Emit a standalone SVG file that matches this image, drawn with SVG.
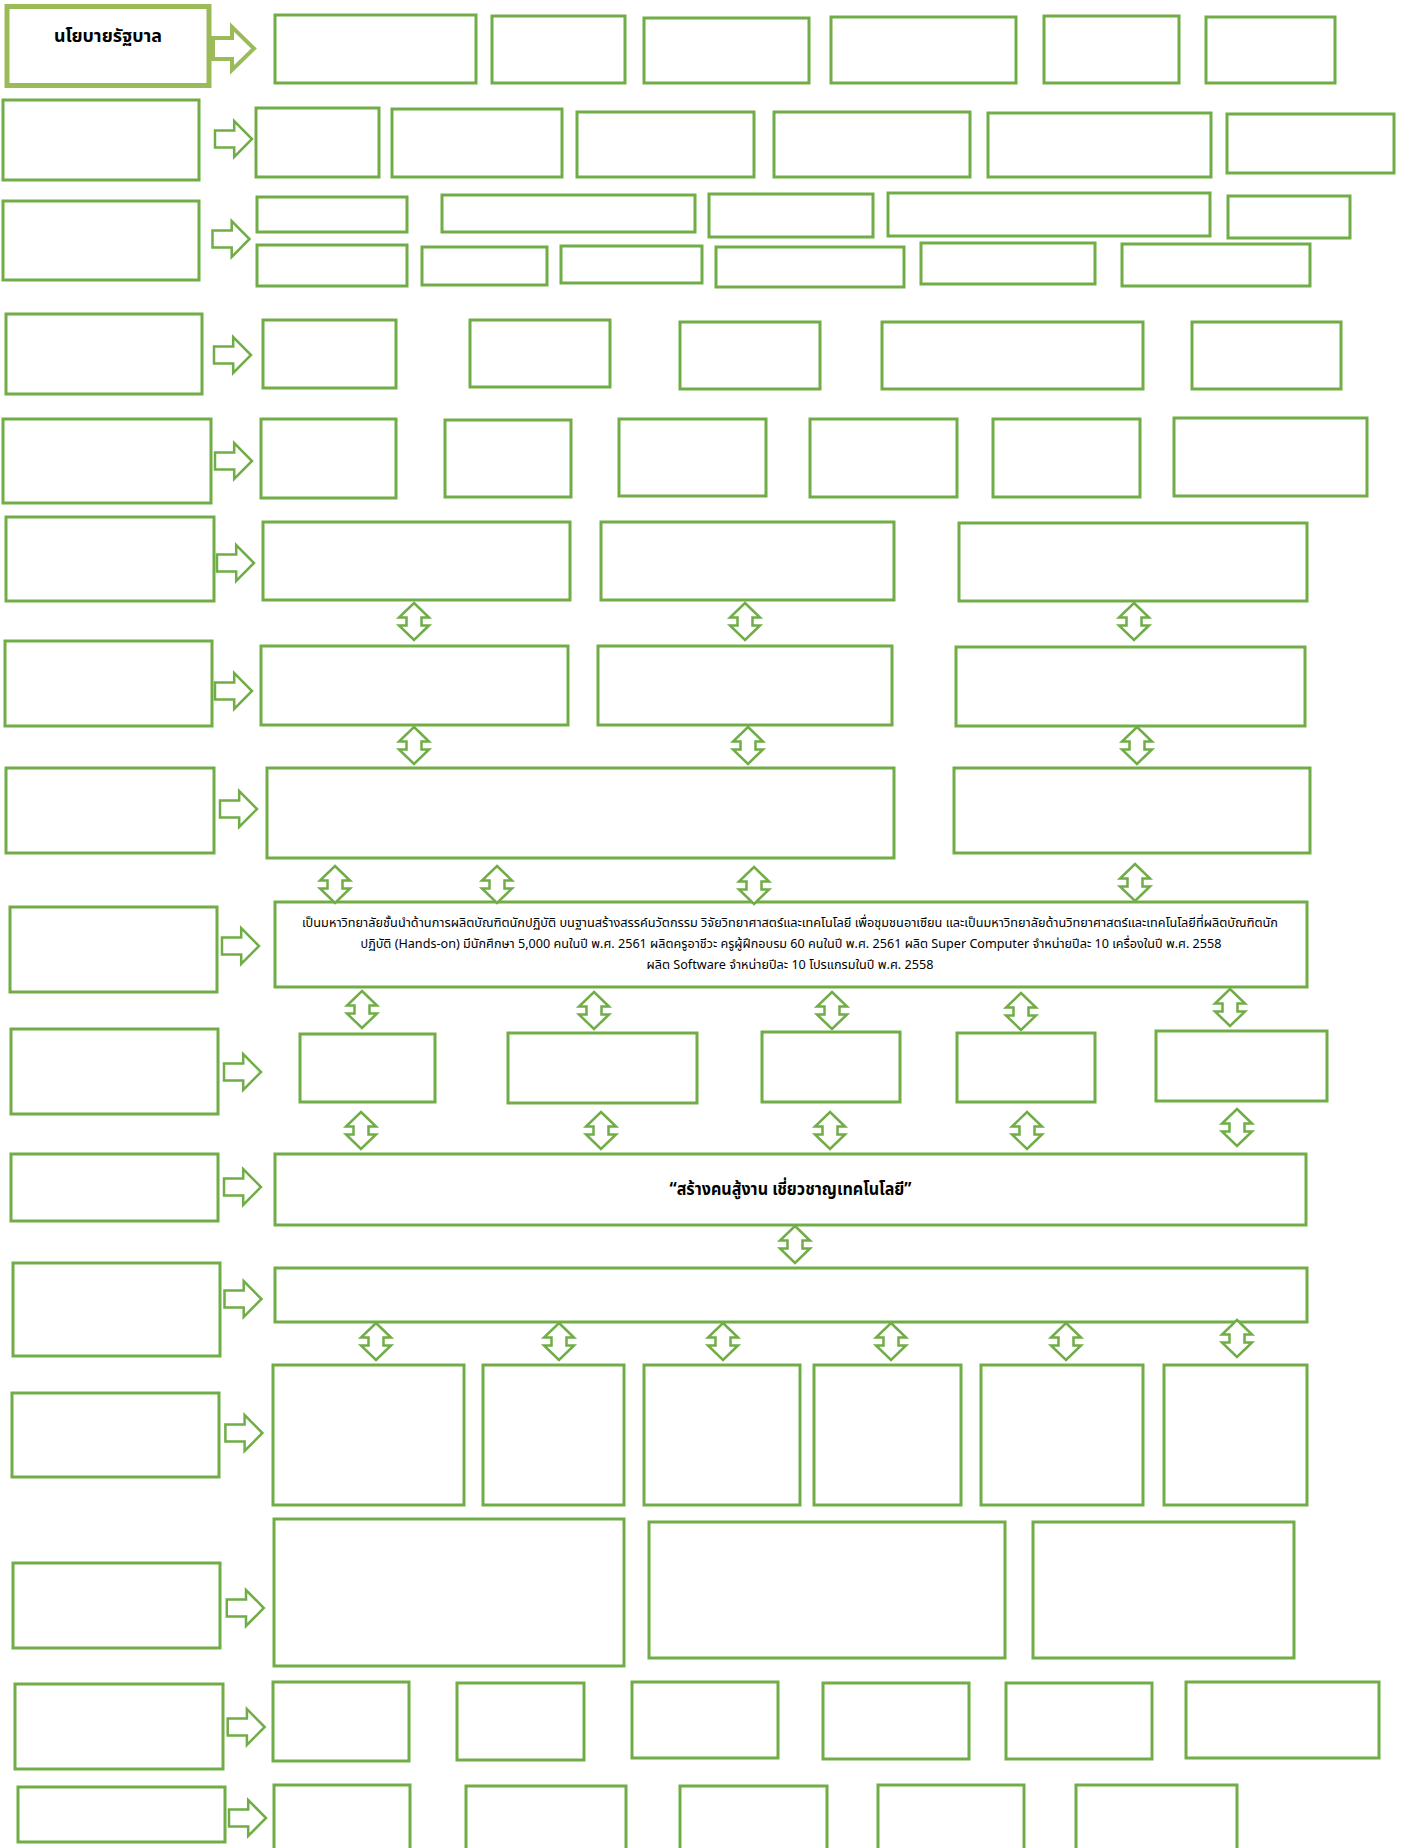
<svg xmlns="http://www.w3.org/2000/svg" xmlns:xlink="http://www.w3.org/1999/xlink" width="1405" height="1848" viewBox="0 0 1405 1848">
<style>
.box{fill:#fff;stroke:#70AD47;stroke-width:3}
.tbox{fill:#fff;stroke:#9BBB59;stroke-width:5}
.arr{fill:#fff;stroke:#70AD47;stroke-width:2.5;stroke-linejoin:miter}
.tarr{fill:#fff;stroke:#9BBB59;stroke-width:4;stroke-linejoin:miter}
.t{font-family:"Noto Sans Thai","Noto Sans","Leelawadee UI","DejaVu Sans",sans-serif;fill:#000}
.b{font-weight:bold}
</style>
<defs>
<path id="ra" class="arr" d="M0,9.4 L19.2,9.4 L19.2,0 L37,18 L19.2,36 L19.2,26.6 L0,26.6 Z"/>
<path id="da" class="arr" d="M15,0 L30,14.5 L22.5,14.5 L22.5,22.5 L30,22.5 L15,37 L0,22.5 L7.5,22.5 L7.5,14.5 L0,14.5 Z"/>
</defs>
<rect width="1405" height="1848" fill="#fff"/>

<g id="row1">
<g id="n-title"><rect class="tbox" x="7" y="6.5" width="202" height="79"/><text class="t b" x="108" y="42" font-size="18" text-anchor="middle" textLength="108" lengthAdjust="spacingAndGlyphs">นโยบายรัฐบาล</text></g>
<g id="n1-1"><rect class="box" x="275" y="15" width="201" height="68"/></g>
<g id="n1-2"><rect class="box" x="492" y="16" width="133" height="67"/></g>
<g id="n1-3"><rect class="box" x="644" y="18" width="165" height="65"/></g>
<g id="n1-4"><rect class="box" x="831" y="17" width="185" height="66"/></g>
<g id="n1-5"><rect class="box" x="1044" y="16" width="135" height="67"/></g>
<g id="n1-6"><rect class="box" x="1206" y="17" width="129" height="66"/></g>
</g>

<g id="row2">
<g id="n2-0"><rect class="box" x="3" y="100" width="196" height="80"/></g>
<g id="n2-1"><rect class="box" x="256" y="108" width="123" height="69"/></g>
<g id="n2-2"><rect class="box" x="392" y="109" width="170" height="68"/></g>
<g id="n2-3"><rect class="box" x="577" y="112" width="177" height="65"/></g>
<g id="n2-4"><rect class="box" x="774" y="112" width="196" height="65"/></g>
<g id="n2-5"><rect class="box" x="988" y="113" width="223" height="64"/></g>
<g id="n2-6"><rect class="box" x="1227" y="114" width="167" height="59"/></g>
</g>

<g id="row3">
<g id="n3-0"><rect class="box" x="3" y="201" width="196" height="79"/></g>
<g id="n3-1"><rect class="box" x="257" y="197" width="150" height="35"/></g>
<g id="n3-2"><rect class="box" x="442" y="195" width="253" height="37"/></g>
<g id="n3-3"><rect class="box" x="709" y="194" width="164" height="43"/></g>
<g id="n3-4"><rect class="box" x="888" y="193" width="322" height="43"/></g>
<g id="n3-5"><rect class="box" x="1228" y="196" width="122" height="42"/></g>
<g id="n3-6"><rect class="box" x="257" y="245" width="150" height="41"/></g>
<g id="n3-7"><rect class="box" x="422" y="247" width="125" height="38"/></g>
<g id="n3-8"><rect class="box" x="561" y="246" width="141" height="37"/></g>
<g id="n3-9"><rect class="box" x="716" y="247" width="188" height="40"/></g>
<g id="n3-10"><rect class="box" x="921" y="243" width="174" height="41"/></g>
<g id="n3-11"><rect class="box" x="1122" y="244" width="188" height="42"/></g>
</g>

<g id="row4">
<g id="n4-0"><rect class="box" x="6" y="314" width="196" height="80"/></g>
<g id="n4-1"><rect class="box" x="263" y="320" width="133" height="68"/></g>
<g id="n4-2"><rect class="box" x="470" y="320" width="140" height="67"/></g>
<g id="n4-3"><rect class="box" x="680" y="322" width="140" height="67"/></g>
<g id="n4-4"><rect class="box" x="882" y="322" width="261" height="67"/></g>
<g id="n4-5"><rect class="box" x="1192" y="322" width="149" height="67"/></g>
</g>

<g id="row5">
<g id="n5-0"><rect class="box" x="3" y="419" width="208" height="84"/></g>
<g id="n5-1"><rect class="box" x="261" y="419" width="135" height="79"/></g>
<g id="n5-2"><rect class="box" x="445" y="420" width="126" height="77"/></g>
<g id="n5-3"><rect class="box" x="619" y="419" width="147" height="77"/></g>
<g id="n5-4"><rect class="box" x="810" y="419" width="147" height="78"/></g>
<g id="n5-5"><rect class="box" x="993" y="419" width="147" height="78"/></g>
<g id="n5-6"><rect class="box" x="1174" y="418" width="193" height="78"/></g>
</g>

<g id="row6">
<g id="n6-0"><rect class="box" x="6" y="517" width="208" height="84"/></g>
<g id="n6-1"><rect class="box" x="263" y="522" width="307" height="78"/></g>
<g id="n6-2"><rect class="box" x="601" y="522" width="293" height="78"/></g>
<g id="n6-3"><rect class="box" x="959" y="523" width="348" height="78"/></g>
</g>

<g id="row7">
<g id="n7-0"><rect class="box" x="5" y="641" width="207" height="85"/></g>
<g id="n7-1"><rect class="box" x="261" y="646" width="307" height="79"/></g>
<g id="n7-2"><rect class="box" x="598" y="646" width="294" height="79"/></g>
<g id="n7-3"><rect class="box" x="956" y="647" width="349" height="79"/></g>
</g>

<g id="row8">
<g id="n8-0"><rect class="box" x="6" y="768" width="208" height="85"/></g>
<g id="n8-1"><rect class="box" x="267" y="768" width="627" height="90"/></g>
<g id="n8-2"><rect class="box" x="954" y="768" width="356" height="85"/></g>
</g>

<g id="row9">
<g id="n9-0"><rect class="box" x="10" y="907" width="207" height="85"/></g>
<g id="n9-1"><rect class="box" x="275" y="902" width="1032" height="85"/>
<text class="t" font-size="12.5" text-anchor="middle"><tspan x="790" y="927" textLength="976" lengthAdjust="spacingAndGlyphs">เป็นมหาวิทยาลัยชั้นนำด้านการผลิตบัณฑิตนักปฏิบัติ บนฐานสร้างสรรค์นวัตกรรม  วิจัยวิทยาศาสตร์และเทคโนโลยี เพื่อชุมชนอาเซียน และเป็นมหาวิทยาลัยด้านวิทยาศาสตร์และเทคโนโลยีที่ผลิตบัณฑิตนัก</tspan><tspan x="791" y="948" textLength="861" lengthAdjust="spacingAndGlyphs">ปฏิบัติ (Hands-on)  มีนักศึกษา 5,000 คนในปี พ.ศ. 2561  ผลิตครูอาชีวะ ครูผู้ฝึกอบรม 60 คนในปี พ.ศ. 2561 ผลิต Super Computer จำหน่ายปีละ 10 เครื่องในปี พ.ศ. 2558</tspan><tspan x="790" y="969" textLength="287" lengthAdjust="spacingAndGlyphs">ผลิต Software จำหน่ายปีละ 10 โปรแกรมในปี พ.ศ. 2558</tspan></text></g>
</g>

<g id="row10">
<g id="n10-0"><rect class="box" x="11" y="1029" width="207" height="85"/></g>
<g id="n10-1"><rect class="box" x="300" y="1034" width="135" height="68"/></g>
<g id="n10-2"><rect class="box" x="508" y="1033" width="189" height="70"/></g>
<g id="n10-3"><rect class="box" x="762" y="1032" width="138" height="70"/></g>
<g id="n10-4"><rect class="box" x="957" y="1033" width="138" height="69"/></g>
<g id="n10-5"><rect class="box" x="1156" y="1031" width="171" height="70"/></g>
</g>

<g id="row11">
<g id="n11-0"><rect class="box" x="11" y="1154" width="207" height="67"/></g>
<g id="n11-1"><rect class="box" x="275" y="1154" width="1031" height="71"/><text class="t b" x="790.5" y="1195" font-size="17" text-anchor="middle" textLength="242" lengthAdjust="spacingAndGlyphs">“สร้างคนสู้งาน เชี่ยวชาญเทคโนโลยี”</text></g>
</g>

<g id="row12">
<g id="n12-0"><rect class="box" x="13" y="1263" width="207" height="93"/></g>
<g id="n12-1"><rect class="box" x="275" y="1268" width="1032" height="54"/></g>
</g>

<g id="row13">
<g id="n13-0"><rect class="box" x="12" y="1393" width="207" height="84"/></g>
<g id="n13-1"><rect class="box" x="273" y="1365" width="191" height="140"/></g>
<g id="n13-2"><rect class="box" x="483" y="1365" width="141" height="140"/></g>
<g id="n13-3"><rect class="box" x="644" y="1365" width="156" height="140"/></g>
<g id="n13-4"><rect class="box" x="814" y="1365" width="147" height="140"/></g>
<g id="n13-5"><rect class="box" x="981" y="1365" width="162" height="140"/></g>
<g id="n13-6"><rect class="box" x="1164" y="1365" width="143" height="140"/></g>
</g>

<g id="row14">
<g id="n14-0"><rect class="box" x="13" y="1563" width="207" height="85"/></g>
<g id="n14-1"><rect class="box" x="274" y="1519" width="350" height="147"/></g>
<g id="n14-2"><rect class="box" x="649" y="1522" width="356" height="136"/></g>
<g id="n14-3"><rect class="box" x="1033" y="1522" width="261" height="136"/></g>
</g>

<g id="row15">
<g id="n15-0"><rect class="box" x="15" y="1684" width="208" height="85"/></g>
<g id="n15-1"><rect class="box" x="273" y="1682" width="136" height="79"/></g>
<g id="n15-2"><rect class="box" x="457" y="1683" width="127" height="77"/></g>
<g id="n15-3"><rect class="box" x="632" y="1682" width="146" height="76"/></g>
<g id="n15-4"><rect class="box" x="823" y="1683" width="146" height="76"/></g>
<g id="n15-5"><rect class="box" x="1006" y="1683" width="146" height="76"/></g>
<g id="n15-6"><rect class="box" x="1186" y="1682" width="193" height="76"/></g>
</g>

<g id="row16">
<g id="n16-0"><rect class="box" x="18" y="1787" width="207" height="55"/></g>
<g id="n16-1"><rect class="box" x="274" y="1785" width="136" height="80"/></g>
<g id="n16-2"><rect class="box" x="466" y="1786" width="160" height="80"/></g>
<g id="n16-3"><rect class="box" x="680" y="1786" width="147" height="80"/></g>
<g id="n16-4"><rect class="box" x="878" y="1785" width="146" height="80"/></g>
<g id="n16-5"><rect class="box" x="1076" y="1785" width="161" height="80"/></g>
</g>

<g id="connectors">
<path class="tarr" d="M213,38 L232,38 L232,27 L254,48.5 L232,70 L232,59 L213,59 Z"/>
<use xlink:href="#ra" x="215" y="121"/>
<use xlink:href="#ra" x="212.5" y="221"/>
<use xlink:href="#ra" x="214" y="337"/>
<use xlink:href="#ra" x="215" y="443"/>
<use xlink:href="#ra" x="217" y="545"/>
<use xlink:href="#ra" x="215" y="673"/>
<use xlink:href="#ra" x="220" y="791"/>
<use xlink:href="#ra" x="222" y="928"/>
<use xlink:href="#ra" x="224" y="1054"/>
<use xlink:href="#ra" x="224" y="1169"/>
<use xlink:href="#ra" x="224.5" y="1281"/>
<use xlink:href="#ra" x="225.4" y="1415"/>
<use xlink:href="#ra" x="226.8" y="1590"/>
<use xlink:href="#ra" x="227.7" y="1709"/>
<use xlink:href="#ra" x="229" y="1800"/>

<use xlink:href="#da" x="399" y="603"/>
<use xlink:href="#da" x="730" y="603"/>
<use xlink:href="#da" x="1119" y="603"/>
<use xlink:href="#da" x="399" y="727"/>
<use xlink:href="#da" x="733" y="727"/>
<use xlink:href="#da" x="1122" y="727"/>
<use xlink:href="#da" x="320" y="866"/>
<use xlink:href="#da" x="482" y="866"/>
<use xlink:href="#da" x="739" y="867"/>
<use xlink:href="#da" x="1120" y="864"/>
<use xlink:href="#da" x="347" y="991"/>
<use xlink:href="#da" x="579" y="992"/>
<use xlink:href="#da" x="817" y="992"/>
<use xlink:href="#da" x="1006" y="993"/>
<use xlink:href="#da" x="1215" y="989"/>
<use xlink:href="#da" x="346" y="1112"/>
<use xlink:href="#da" x="586" y="1112"/>
<use xlink:href="#da" x="815" y="1112"/>
<use xlink:href="#da" x="1012" y="1112"/>
<use xlink:href="#da" x="1222" y="1109"/>
<use xlink:href="#da" x="780" y="1226"/>
<use xlink:href="#da" x="361" y="1323"/>
<use xlink:href="#da" x="544" y="1323"/>
<use xlink:href="#da" x="708" y="1323"/>
<use xlink:href="#da" x="876" y="1323"/>
<use xlink:href="#da" x="1051" y="1323"/>
<use xlink:href="#da" x="1222" y="1320"/>
</g>
</svg>
